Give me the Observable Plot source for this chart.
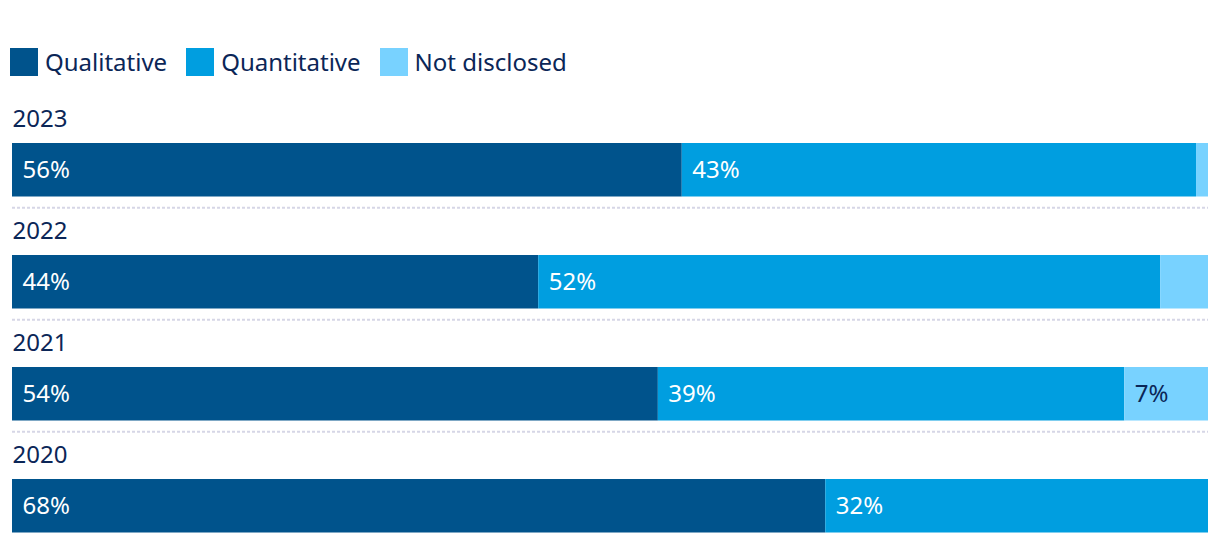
<!DOCTYPE html>
<html>
<head>
<meta charset="utf-8">
<script src="https://cdn.jsdelivr.net/npm/d3@7"></script>
<script src="https://cdn.jsdelivr.net/npm/@observablehq/plot@0.6"></script>
<style>
  html, body { margin: 0; padding: 0; background: #fff; }
  body { font-family: "Noto Sans", "Open Sans", sans-serif; color: #0b2657; width: 1220px; }
  #legend { height: 94px; box-sizing: border-box; padding: 48px 0 0 10px; display: flex; align-items: flex-start; }
  #legend .item { display: flex; align-items: center; margin-right: 19px; font-size: 24px; line-height: 28px; height: 28px; }
  #legend .sw { width: 28px; height: 28px; margin-right: 7px; }
  svg { display: block; }
</style>
</head>
<body>
<div id="legend"></div>
<div id="chart"></div>
<script>
const years = ["2023", "2022", "2021", "2020"];
const categories = ["Qualitative", "Quantitative", "Not disclosed"];
const qualitative = [56, 44, 54, 68];
const quantitative = [43, 52, 39, 32];
const notDisclosed = [1, 4, 7, 0];
const colors = ["#00538c", "#009ee0", "#78d2ff"];
const navy = "#0b2657";

const series = [qualitative, quantitative, notDisclosed];
const data = [];
years.forEach((y, i) => {
  categories.forEach((c, j) => data.push({year: y, cat: c, value: series[j][i]}));
});

const legend = document.getElementById("legend");
categories.forEach((c, j) => {
  const it = document.createElement("div");
  it.className = "item";
  it.innerHTML = `<span class="sw" style="background:${colors[j]}"></span><span>${c}</span>`;
  legend.appendChild(it);
});

const band = 450 / years.length;
const labelMin = 5;

const chart = Plot.plot({
  width: 1220,
  height: 450,
  marginTop: 0,
  marginBottom: 0,
  marginLeft: 12,
  marginRight: 12,
  style: {fontFamily: "'Noto Sans', 'Open Sans', sans-serif", fontSize: "24px", background: "white"},
  x: {domain: [0, 100], axis: null},
  y: {domain: years, padding: 0, axis: null},
  color: {domain: categories, range: colors},
  marks: [
    Plot.ruleY(years.slice(0, -1), {y: d => d, dy: band / 2, stroke: "#d6d6e6", strokeWidth: 2, strokeDasharray: "3,2"}),
    Plot.barX(data, {x: "value", y: "year", fill: "cat", insetTop: 48, insetBottom: band - 48 - 54}),
    Plot.text(years, {y: d => d, x: 0, text: d => d, textAnchor: "start", dy: 24 - band / 2, fill: navy, fontSize: 24}),
    Plot.text(data, Plot.stackX1({x: "value", y: "year", z: "cat",
      text: d => (d.cat !== "Not disclosed" && d.value >= labelMin) ? d.value + "%" : "",
      textAnchor: "start", dx: 10, dy: 48 + 27 - band / 2, fill: "white", fontSize: 24})),
    Plot.text(data, Plot.stackX1({x: "value", y: "year", z: "cat",
      text: d => (d.cat === "Not disclosed" && d.value >= labelMin) ? d.value + "%" : "",
      textAnchor: "start", dx: 10, dy: 48 + 27 - band / 2, fill: navy, fontSize: 24}))
  ]
});
document.getElementById("chart").appendChild(chart);
</script>
</body>
</html>
